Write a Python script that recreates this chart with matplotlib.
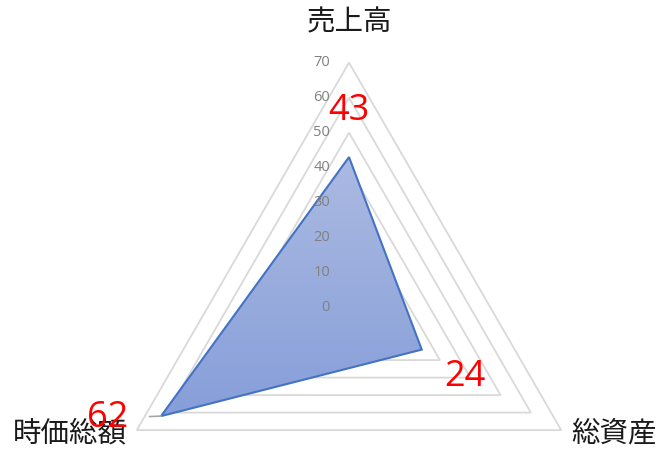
import numpy as np
import matplotlib.pyplot as plt
from matplotlib.patches import Polygon
from matplotlib.colors import LinearSegmentedColormap

plt.rcParams['font.family'] = ['Noto Sans CJK JP', 'DejaVu Sans']

categories = ['売上高', '総資産', '時価総額']
values = [43, 24, 62]
grid_levels = [10, 20, 30, 40, 50, 60, 70]
tick_values = [0, 10, 20, 30, 40, 50, 60, 70]
r_max = 70

# Excel radar: first category on top, then clockwise
angles = np.pi / 2 - np.arange(len(categories)) * 2 * np.pi / len(categories)


def to_xy(r):
    r = np.asarray(r, dtype=float)
    return r * np.cos(angles), r * np.sin(angles)


fig = plt.figure(figsize=(6.63, 4.57), dpi=100)
ax = fig.add_axes([0, 0, 1, 1])
px = 3.5  # pixels per value unit
ax.set_xlim(-349 / px, (663 - 349) / px)
ax.set_ylim(-(457 - 307.6) / px, 307.6 / px)
ax.axis('off')

# triangular gridlines
for lvl in grid_levels:
    gx, gy = to_xy([lvl] * 3)
    ax.add_patch(Polygon(np.column_stack([gx, gy]), closed=True, fill=False,
                         edgecolor='#D9D9D9', linewidth=1.3, zorder=1))

# gradient filled series
sx, sy = to_xy(values)
poly = Polygon(np.column_stack([sx, sy]), closed=True, facecolor='none',
               edgecolor='#4472C4', linewidth=1.5, zorder=4)
ax.add_patch(poly)
cmap = LinearSegmentedColormap.from_list('grad', ['#869ED9', '#ABBAE1'])
grad = np.linspace(0, 1, 256).reshape(-1, 1)
img = ax.imshow(grad, cmap=cmap, origin='lower', aspect='auto',
                extent=[sx.min(), sx.max(), sy.min(), sy.max()], zorder=3)
img.set_clip_path(poly)

# value axis tick labels
for t in tick_values:
    ax.annotate(str(t), xy=(0, t), xytext=(-19, 0), textcoords='offset pixels',
                ha='right', va='center', fontsize=10.5, color='#808080',
                family=['Open Sans', 'DejaVu Sans'], zorder=6)

# category labels
cat_offsets = [(0, 40), (10, -3), (-10, -3)]
cat_align = [('center', 'center'), ('left', 'center'), ('right', 'center')]
ex, ey = to_xy([r_max] * 3)
for i, name in enumerate(categories):
    ax.annotate(name, xy=(ex[i], ey[i]), xytext=cat_offsets[i],
                textcoords='offset pixels', ha=cat_align[i][0],
                va=cat_align[i][1], fontsize=20.5, color='#1a1a1a', zorder=6)

# data labels
lab_offsets = [(0, 46), (43, -27), (-53, -2)]
for i, v in enumerate(values):
    arrow = None
    if i == 2:
        arrow = dict(arrowstyle='-', color='#A6A6A6', lw=1.2,
                     shrinkA=13, shrinkB=0)
    ax.annotate(str(v), xy=(sx[i], sy[i]), xytext=lab_offsets[i],
                textcoords='offset pixels', ha='center', va='center',
                fontsize=26, color='#FF0000',
                family=['Open Sans', 'DejaVu Sans'],
                arrowprops=arrow, zorder=7)

fig.savefig('out.png', dpi=100)
